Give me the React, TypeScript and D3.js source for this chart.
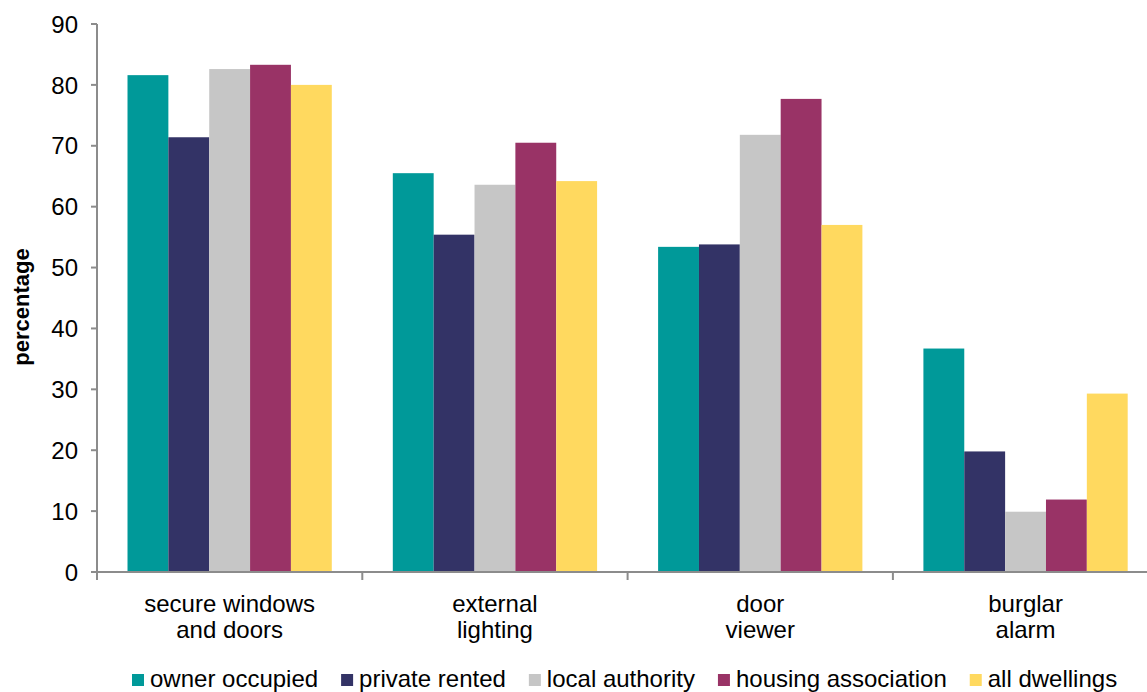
import React from "react";
import * as d3 from "d3";

const categories = [
  ["secure windows", "and doors"],
  ["external", "lighting"],
  ["door", "viewer"],
  ["burglar", "alarm"],
];
const seriesNames = [
  "owner occupied",
  "private rented",
  "local authority",
  "housing association",
  "all dwellings",
];
const ownerOccupied = [81.6, 65.5, 53.4, 36.7];
const privateRented = [71.4, 55.4, 53.8, 19.8];
const localAuthority = [82.6, 63.6, 71.8, 9.9];
const housingAssociation = [83.3, 70.5, 77.7, 11.9];
const allDwellings = [80.0, 64.2, 57.0, 29.3];
const seriesValues = [ownerOccupied, privateRented, localAuthority, housingAssociation, allDwellings];
const colors = ["#009999", "#333366", "#C6C6C6", "#993366", "#FFD95F"];
const yTicks = [0, 10, 20, 30, 40, 50, 60, 70, 80, 90];

const W = 1147;
const H = 692;
const FONT = "'Liberation Sans', Arial, sans-serif";
const FS = 24;

function measure(text: string, font: string): number {
  const c = document.createElement("canvas");
  const ctx = c.getContext("2d");
  if (!ctx) return text.length * FS * 0.5;
  ctx.font = font;
  return ctx.measureText(text).width;
}

export default function App() {
  const left = 97;
  const top = 24;
  const bottom = 572;
  const groupStep = 265.3;
  const catKeys = categories.map((c) => c.join(" "));
  const x0 = d3
    .scaleBand<string>()
    .domain(catKeys)
    .range([left, left + groupStep * categories.length])
    .paddingInner(0.23)
    .paddingOuter(0.115);
  const x1 = d3
    .scaleBand<string>()
    .domain(seriesNames)
    .range([0, x0.bandwidth()]);
  const y = d3.scaleLinear().domain([0, 90]).range([bottom, top]);
  const axisColor = "#8c8c8c";

  // legend layout
  const legendFont = `${FS}px 'Liberation Sans'`;
  let lx = 132;
  const legendItems = seriesNames.map((name, i) => {
    const w = measure(name, legendFont);
    const item = { name, x: lx, color: colors[i] };
    lx += 18 + w + 23;
    return item;
  });

  return (
    <svg
      width={W}
      height={H}
      style={{ position: "absolute", left: 0, top: 0, background: "#fff" }}
      fontFamily={FONT}
    >
      {/* bars */}
      {catKeys.map((ck, ci) => (
        <g key={ck} transform={`translate(${x0(ck)},0)`}>
          {seriesNames.map((s, si) => (
            <rect
              key={s}
              x={x1(s)}
              y={y(seriesValues[si][ci])}
              width={x1.bandwidth()}
              height={bottom - y(seriesValues[si][ci])}
              fill={colors[si]}
            />
          ))}
        </g>
      ))}
      {/* y axis */}
      <line x1={left} x2={left} y1={top} y2={bottom} stroke={axisColor} strokeWidth={2} />
      {yTicks.map((t) => (
        <g key={t}>
          <line x1={left - 6} x2={left} y1={y(t)} y2={y(t)} stroke={axisColor} strokeWidth={2} />
          <text
            x={78}
            y={y(t)}
            dy="0.36em"
            textAnchor="end"
            fontSize={FS}
            fill="#000"
          >
            {t}
          </text>
        </g>
      ))}
      {/* x axis */}
      <line x1={left} x2={W} y1={bottom} y2={bottom} stroke={axisColor} strokeWidth={2} />
      {d3.range(categories.length + 1).map((i) => {
        const xv = left + groupStep * i;
        return (
          <line key={i} x1={xv} x2={xv} y1={bottom} y2={bottom + 8} stroke={axisColor} strokeWidth={2} />
        );
      })}
      {categories.map((lines, ci) => {
        const cx = (x0(catKeys[ci]) as number) + x0.bandwidth() / 2;
        return (
          <text key={ci} textAnchor="middle" fontSize={FS} fill="#000">
            {lines.map((l, li) => (
              <tspan key={li} x={cx} y={612 + li * 26}>
                {l}
              </tspan>
            ))}
          </text>
        );
      })}
      {/* y title */}
      <text
        transform={`translate(29,${(top + bottom) / 2 + 9}) rotate(-90)`}
        textAnchor="middle"
        fontSize={22}
        fontWeight="bold"
        fill="#000"
      >
        percentage
      </text>
      {/* legend */}
      {legendItems.map((it) => (
        <g key={it.name}>
          <rect x={it.x} y={674} width={12} height={12} fill={it.color} />
          <text x={it.x + 18} y={687} fontSize={FS} fill="#000">
            {it.name}
          </text>
        </g>
      ))}
    </svg>
  );
}
